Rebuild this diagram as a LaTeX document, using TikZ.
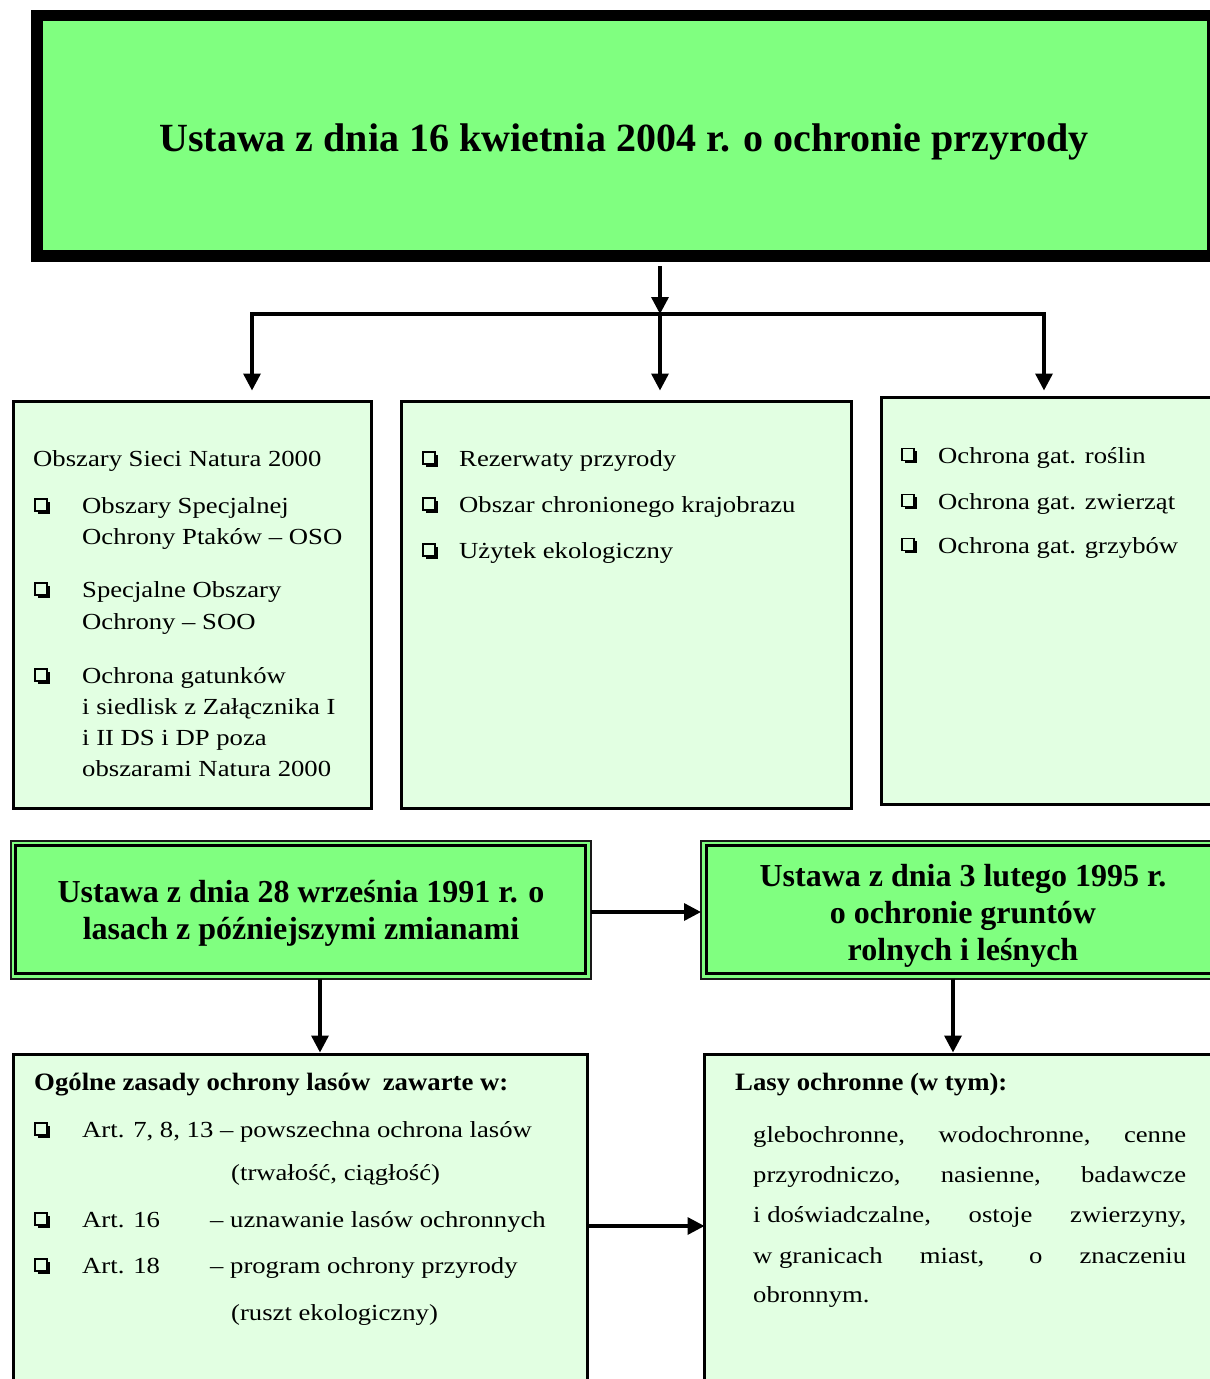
\documentclass[tikz,border=0pt]{standalone}
\usepackage{fontspec}
\setmainfont{Liberation Serif}
\newfontfamily\widerm[FakeStretch=1.16]{Liberation Serif}
\newfontfamily\widebf[FakeStretch=1.07]{Liberation Serif}
\usetikzlibrary{arrows.meta,calc}
\definecolor{lawgreen}{HTML}{80FF80}
\definecolor{palegreen}{HTML}{E2FFE2}
\tikzset{
  box/.style={draw, line width=2.8pt, fill=palegreen, inner sep=0pt, outer sep=0pt, anchor=north west},
  dbox/.style={draw=black!90, line width=2pt, fill=lawgreen, inner sep=0pt, outer sep=0pt, anchor=north west},
  txt/.style={anchor=base west, inner sep=0pt, font=\widerm\fontsize{23}{28}\selectfont},
  hdr/.style={anchor=base west, inner sep=0pt, font=\widebf\bfseries\fontsize{25}{30}\selectfont},
  ttl/.style={anchor=base, inner sep=0pt, font=\bfseries\fontsize{32}{38}\selectfont},
  conn/.style={line width=3.4pt, -{Triangle[length=17pt,width=17pt]}},
  chk/.pic={
    \draw[line width=1.2pt] (-7,-7) rectangle (5,5);
    \fill (5,-4.5) rectangle (7.5,7.5);
    \fill (-4.5,5) rectangle (7.5,7.5);
  }
}
\begin{document}
\begin{tikzpicture}[x=1pt,y=-1pt]
\useasboundingbox (0,0) rectangle (1210,1379);
\fill[white] (0,0) rectangle (1210,1379);
\clip (0,0) rectangle (1210,1379);

% top box
\node[draw, line width=11.5pt, fill=lawgreen, minimum width=1176pt, minimum height=240.5pt,
      inner sep=0pt, outer sep=0pt, anchor=north west] (top) at (37,15.5) {};
\node[anchor=base, inner sep=0pt, font=\bfseries\fontsize{40}{48}\selectfont] (toptxt) at (624,151)
  {Ustawa z dnia 16 kwietnia 2004 r. o ochronie przyrody};

% second row boxes
\node[box, minimum width=358pt, minimum height=407pt] (A) at (13.5,401.5) {};
\node[box, minimum width=450pt, minimum height=407pt] (B) at (401.5,401.5) {};
\node[box, minimum width=360pt, minimum height=407pt] (C) at (881.5,397.5) {};

% box A text
\node[txt] (a0) at (33,466) {Obszary Sieci Natura 2000};
\pic at (42,506) {chk};
\node[txt] (a1) at (82,513) {Obszary Specjalnej};
\node[txt] (a2) at (82,544) {Ochrony Ptaków – OSO};
\pic at (42,590) {chk};
\node[txt] (a3) at (82,597) {Specjalne Obszary};
\node[txt] (a4) at (82,629) {Ochrony – SOO};
\pic at (42,676) {chk};
\node[txt] (a5) at (82,683) {Ochrona gatunków};
\node[txt] (a6) at (82,714) {i siedlisk z Załącznika I};
\node[txt] (a7) at (82,745) {i II DS i DP poza};
\node[txt] (a8) at (82,776) {obszarami Natura 2000};

% box B text
\pic at (430,459) {chk};
\node[txt] (b1) at (459,466) {Rezerwaty przyrody};
\pic at (430,505) {chk};
\node[txt] (b2) at (459,512) {Obszar chronionego krajobrazu};
\pic at (430,551) {chk};
\node[txt] (b3) at (459,558) {Użytek ekologiczny};

% box C text
\pic at (909,455.5) {chk};
\node[txt] (c1) at (938,463) {Ochrona gat. roślin};
\pic at (909,501.5) {chk};
\node[txt] (c2) at (938,509) {Ochrona gat. zwierząt};
\pic at (909,545.5) {chk};
\node[txt] (c3) at (938,553) {Ochrona gat. grzybów};

% third row double boxes
\node[dbox, minimum width=580pt, minimum height=138pt] (D) at (10.5,840.5) {};
\draw[line width=3pt] ([shift={(5,4.5)}]D.north west) rectangle ([shift={(-5,-5)}]D.south east);
\node[ttl] (d1) at (301,902) {Ustawa z dnia 28 września 1991 r. o};
\node[ttl] (d2) at (301,939) {lasach z późniejszymi zmianami};

\node[dbox, minimum width=540pt, minimum height=138pt] (E) at (701,840.5) {};
\draw[line width=3pt] ([shift={(5,4.5)}]E.north west) rectangle ([shift={(-5,-5)}]E.south east);
\node[ttl] (e1) at (963,886) {Ustawa z dnia 3 lutego 1995 r.};
\node[ttl] (e2) at (963,923) {o ochronie gruntów};
\node[ttl] (e3) at (963,960) {rolnych i leśnych};

% bottom boxes
\node[box, minimum width=574pt, minimum height=370pt] (F) at (13.5,1054.5) {};
\node[box, minimum width=540pt, minimum height=370pt] (G) at (704.5,1054.5) {};

\node[hdr] (f0) at (34,1090) {Ogólne zasady ochrony lasów\enspace zawarte w:};
\pic at (42,1130) {chk};
\node[txt] (f1) at (82,1137) {Art. 7, 8, 13 – powszechna ochrona lasów};
\node[txt] (f2) at (231,1180) {(trwałość, ciągłość)};
\pic at (42,1220) {chk};
\node[txt] (f3) at (82,1227) {Art. 16};
\node[txt] (f4) at (210,1227) {– uznawanie lasów ochronnych};
\pic at (42,1266) {chk};
\node[txt] (f5) at (82,1273) {Art. 18};
\node[txt] (f6) at (210,1273) {– program ochrony przyrody};
\node[txt] (f7) at (231,1320) {(ruszt ekologiczny)};

\node[hdr] (g0) at (735,1090) {Lasy ochronne (w tym):};
\node[txt] (g1) at (753,1142) {\makebox[433pt][s]{glebochronne, wodochronne, cenne}};
\node[txt] (g2) at (753,1182) {\makebox[433pt][s]{przyrodniczo, nasienne, badawcze}};
\node[txt] (g3) at (753,1222) {\makebox[433pt][s]{\mbox{i doświadczalne,} ostoje zwierzyny,}};
\node[txt] (g4) at (753,1263) {\makebox[433pt][s]{\mbox{w granicach} miast, o znaczeniu}};
\node[txt] (g5) at (753,1302) {obronnym.};

% connectors
\coordinate (hub) at (660,314);
\coordinate (hl) at (252,314);
\coordinate (hr) at (1044,314);
\draw[conn, shorten <=10pt] (top.south -| hub) -- (hub);
\draw[line width=3.6pt, line cap=rect] (hl) -- (hr);
\draw[conn, shorten >=11pt] (hl) -- (hl |- A.north);
\draw[conn, shorten >=11pt] (hub) -- (hub |- B.north);
\draw[conn, shorten >=7pt] (hr) -- (hr |- C.north);

\coordinate (ay1) at (0,912);
\draw[conn] (D.east |- ay1) -- (E.west |- ay1);
\coordinate (dx) at (320,0);
\draw[conn, shorten >=2pt] (D.south -| dx) -- (F.north -| dx);
\coordinate (ex) at (953,0);
\draw[conn, shorten >=2pt] (E.south -| ex) -- (G.north -| ex);
\coordinate (ay2) at (0,1226);
\draw[conn] (F.east |- ay2) -- (G.west |- ay2);
\end{tikzpicture}
\end{document}
